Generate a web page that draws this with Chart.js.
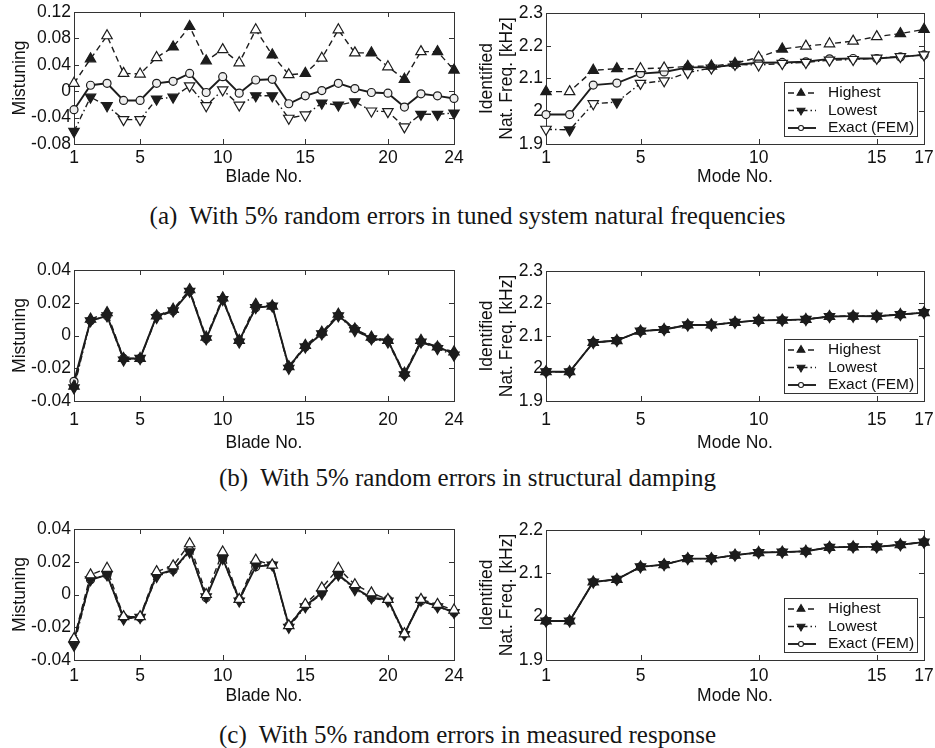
<!DOCTYPE html>
<html lang="en">
<head>
<meta charset="utf-8">
<title>Mistuning</title>
<script src="https://cdn.jsdelivr.net/npm/chart.js@4.4.1/dist/chart.umd.min.js"></script>
<style>
  html, body { margin: 0; padding: 0; background: #fff; }
  #figura { position: relative; width: 935px; height: 748px; overflow: hidden; }
  #figura canvas { position: absolute; }
  .legenda {
    position: absolute; left: 0; width: 935px; text-align: center; white-space: nowrap;
    font-family: "Liberation Serif", "Times New Roman", serif; font-size: 25px; line-height: 28px; color: #151515;
  }
</style>
</head>
<body>
<div id="figura">
  <canvas id="a_esq" width="470" height="188" style="left:0;top:0"></canvas>
  <canvas id="a_dir" width="475" height="188" style="left:460px;top:0"></canvas>
  <div class="legenda" style="top:202px">(a)&nbsp; With 5% random errors in tuned system natural frequencies</div>

  <canvas id="b_esq" width="470" height="196" style="left:0;top:258px"></canvas>
  <canvas id="b_dir" width="475" height="196" style="left:460px;top:258px"></canvas>
  <div class="legenda" style="top:464px">(b)&nbsp; With 5% random errors in structural damping</div>

  <canvas id="c_esq" width="470" height="190" style="left:0;top:517px"></canvas>
  <canvas id="c_dir" width="475" height="190" style="left:460px;top:517px"></canvas>
  <div class="legenda" style="top:721px">(c)&nbsp; With 5% random errors in measured response</div>
</div>

<script>
// eixos x: número da pá e número do modo
const laminas = [1, 2, 3, 4, 5, 6, 7, 8, 9, 10, 11, 12, 13, 14, 15, 16, 17, 18, 19, 20, 21, 22, 23, 24];
const modos = [1, 2, 3, 4, 5, 6, 7, 8, 9, 10, 11, 12, 13, 14, 15, 16, 17];
const ticks_laminas = [1, 5, 10, 15, 20, 24];
const ticks_modos = [1, 5, 10, 15, 17];
const ticks_mist_a = [-0.08, -0.04, 0, 0.04, 0.08, 0.12];
const ticks_mist_bc = [-0.04, -0.02, 0, 0.02, 0.04];
const ticks_freq_ab = [1.9, 2.0, 2.1, 2.2, 2.3];
const ticks_freq_c = [1.9, 2.0, 2.1, 2.2];
const rotulos = ["Highest", "Lowest", "Exact (FEM)"];

// valores exatos (FEM)
const mist_exato = [-0.028, 0.009, 0.012, -0.014, -0.014, 0.012, 0.015, 0.027, -0.002, 0.022, -0.003, 0.017,
                    0.018, -0.019, -0.007, 0.001, 0.012, 0.004, -0.002, -0.003, -0.024, -0.004, -0.007, -0.011];
const freq_exata = [1.99, 1.99, 2.08, 2.086, 2.115, 2.12, 2.134, 2.134, 2.142, 2.148, 2.149, 2.151, 2.16, 2.161, 2.161, 2.166, 2.172];

// (a) erros nas frequências naturais do sistema sintonizado
const mist_alto_a = [0.012, 0.049, 0.084, 0.027, 0.026, 0.051, 0.067, 0.098, 0.046, 0.063, 0.043, 0.093,
                     0.055, 0.025, 0.027, 0.050, 0.093, 0.058, 0.058, 0.037, 0.018, 0.060, 0.060, 0.032];
const mist_baixo_a = [-0.061, -0.009, -0.022, -0.043, -0.043, -0.012, -0.009, 0.008, -0.022, 0.002, -0.021, -0.007,
                      -0.007, -0.041, -0.036, -0.018, -0.021, -0.016, -0.030, -0.031, -0.054, -0.035, -0.035, -0.033];
const freq_alta_a = [2.06, 2.06, 2.125, 2.13, 2.13, 2.132, 2.137, 2.138, 2.146, 2.165, 2.19, 2.199, 2.206, 2.214, 2.228, 2.237, 2.25];
const freq_baixa_a = [1.945, 1.943, 2.023, 2.028, 2.085, 2.093, 2.118, 2.132, 2.143, 2.141, 2.146, 2.149, 2.156, 2.158, 2.162, 2.167, 2.172];

// (b) erros no amortecimento estrutural
const mist_alto_b = [-0.031, 0.010, 0.014, -0.014, -0.014, 0.012, 0.016, 0.028, -0.001, 0.023, -0.003, 0.019,
                     0.018, -0.019, -0.006, 0.002, 0.013, 0.004, -0.001, -0.003, -0.023, -0.003, -0.007, -0.010];
const mist_baixo_b = [-0.032, 0.009, 0.012, -0.015, -0.014, 0.011, 0.015, 0.027, -0.002, 0.022, -0.004, 0.017,
                      0.018, -0.020, -0.007, 0.001, 0.012, 0.003, -0.002, -0.004, -0.024, -0.004, -0.008, -0.012];
const freq_alta_b = [1.99, 1.99, 2.08, 2.086, 2.115, 2.12, 2.134, 2.134, 2.142, 2.148, 2.149, 2.151, 2.16, 2.161, 2.161, 2.166, 2.172];
const freq_baixa_b = [1.99, 1.99, 2.08, 2.086, 2.115, 2.12, 2.134, 2.134, 2.142, 2.148, 2.149, 2.151, 2.16, 2.161, 2.161, 2.166, 2.172];

// (c) erros na resposta medida
const mist_alto_c = [-0.027, 0.012, 0.016, -0.0135, -0.0135, 0.014, 0.0175, 0.031, 0.000, 0.026, -0.003, 0.021,
                     0.018, -0.019, -0.006, 0.004, 0.016, 0.006, 0.001, -0.003, -0.024, -0.003, -0.006, -0.0095];
const mist_baixo_c = [-0.031, 0.009, 0.012, -0.015, -0.014, 0.011, 0.015, 0.026, -0.0015, 0.022, -0.004, 0.018,
                      0.018, -0.020, -0.0075, 0.0005, 0.012, 0.003, -0.002, -0.004, -0.0245, -0.0035, -0.0075, -0.011];
const freq_alta_c = [1.99, 1.99, 2.08, 2.086, 2.115, 2.12, 2.134, 2.134, 2.142, 2.148, 2.149, 2.151, 2.16, 2.161, 2.161, 2.166, 2.172];
const freq_baixa_c = [1.99, 1.99, 2.08, 2.086, 2.115, 2.12, 2.134, 2.134, 2.142, 2.148, 2.149, 2.151, 2.16, 2.161, 2.161, 2.166, 2.172];

const COR = "#1c1c1c";
const COR_TEXTO = "#111";
const FONTE = '"Liberation Sans", Arial, Helvetica, sans-serif';

// caixa fechada com ticks para dentro (estilo matlab)
const moldura_plugin = {
  id: "moldura",
  beforeDatasetsDraw(chart) {
    const { ctx, chartArea: a, scales } = chart;
    const linha = (x1, y1, x2, y2) => { ctx.beginPath(); ctx.moveTo(x1, y1); ctx.lineTo(x2, y2); ctx.stroke(); };
    ctx.save();
    ctx.strokeStyle = "#333";
    ctx.lineWidth = 1;
    ctx.strokeRect(Math.round(a.left) + 0.5, Math.round(a.top) + 0.5, Math.round(a.width), Math.round(a.height));
    scales.x.ticks.forEach((t) => {
      const px = Math.round(scales.x.getPixelForValue(t.value)) + 0.5;
      linha(px, a.bottom, px, a.bottom - 5);
      linha(px, a.top, px, a.top + 5);
    });
    scales.y.ticks.forEach((t) => {
      const py = Math.round(scales.y.getPixelForValue(t.value)) + 0.5;
      linha(a.left, py, a.left + 5, py);
      linha(a.right, py, a.right - 5, py);
    });
    ctx.restore();
  },
};

// legenda dentro do gráfico, canto inferior direito
const legenda_plugin = {
  id: "legenda_matlab",
  afterDraw(chart, args, opts) {
    if (!opts.mostrar) return;
    const { ctx, chartArea: a } = chart;
    const x0 = Math.round(a.right) - 140, y0 = Math.round(a.bottom) - 62;
    ctx.save();
    ctx.fillStyle = "#fff";
    ctx.fillRect(x0, y0, 133, 54);
    ctx.strokeStyle = "#333";
    ctx.lineWidth = 1;
    ctx.strokeRect(x0 + 0.5, y0 + 0.5, 133, 54);
    chart.data.datasets.forEach((ds, i) => {
      const y = y0 + 11 + i * 17.5;
      ctx.strokeStyle = COR;
      ctx.lineWidth = ds.borderWidth;
      ctx.setLineDash(ds.borderDash);
      ctx.beginPath();
      ctx.moveTo(x0 + 4, y);
      ctx.lineTo(x0 + 32, y);
      ctx.stroke();
      ctx.setLineDash([]);
      ctx.lineWidth = 1.1;
      ctx.fillStyle = ds.pointStyle === "circle" ? "#fff" : COR;
      Chart.helpers.drawPoint(ctx, { pointStyle: ds.pointStyle, rotation: ds.pointRotation, radius: ds.pointRadius - 1.5, borderWidth: 1.1 }, x0 + 17, y);
      ctx.fillStyle = COR_TEXTO;
      ctx.font = "15.5px " + FONTE;
      ctx.textBaseline = "middle";
      ctx.fillText(ds.label, x0 + 44, y);
    });
    ctx.restore();
  },
};

function formatar(v) {
  if (Math.abs(v) < 1e-9) return "0";
  return String(parseFloat(v.toFixed(2)));
}

function preenchimento(cheios, n, fundo) {
  return Array.from({ length: n }, (_, j) =>
    cheios === true || (Array.isArray(cheios) && cheios.includes(j + 1)) ? COR : fundo);
}

function montar_painel(id, cfg) {
  const canvas = document.getElementById(id);
  if (!canvas) throw `${id} não encontrado!`;
  const estilos = [
    { borderDash: [6, 4], pointStyle: "triangle", pointRotation: 0, pointRadius: 6, borderWidth: 1.4 },
    { borderDash: [6, 3, 1.5, 3], pointStyle: "triangle", pointRotation: 180, pointRadius: 6, borderWidth: 1.4 },
    { borderDash: [], pointStyle: "circle", pointRotation: 0, pointRadius: 4, borderWidth: 1.9 },
  ];
  const datasets = cfg.series.map((valores, i) => ({
    label: rotulos[i],
    data: cfg.xs.map((x, j) => ({ x, y: valores[j] })),
    borderColor: COR,
    pointBorderColor: COR,
    pointBackgroundColor: preenchimento(cfg.cheios[i], cfg.xs.length, i === 2 ? "#eee" : "#fff"),
    pointBorderWidth: 1.2,
    tension: 0,
    clip: false,
    ...estilos[i],
  }));
  const zerar = (s) => { s.paddingLeft = 0; s.paddingRight = 0; s.paddingTop = 0; s.paddingBottom = 0; };
  const fonte = { family: FONTE, size: 17.5 };

  return new Chart(canvas, {
    type: "line",
    data: { datasets },
    plugins: [moldura_plugin, legenda_plugin],
    options: {
      responsive: false,
      animation: false,
      events: [],
      layout: { padding: { left: 0, top: cfg.pad_topo, right: cfg.pad_dir, bottom: 0 } },
      plugins: {
        legend: { display: false },
        tooltip: { enabled: false },
        legenda_matlab: { mostrar: cfg.legenda },
      },
      scales: {
        x: {
          type: "linear",
          min: cfg.xs[0],
          max: cfg.xs[cfg.xs.length - 1],
          grid: { display: false, drawTicks: false },
          border: { display: false },
          afterBuildTicks: (s) => { s.ticks = cfg.ticks_x.map((v) => ({ value: v })); },
          ticks: { font: fonte, color: COR_TEXTO, padding: cfg.pad_x, maxRotation: 0, autoSkip: false, callback: (v) => String(v) },
          title: { display: true, text: cfg.titulo_x, font: { ...fonte, lineHeight: 1.2 }, color: COR_TEXTO, padding: 0 },
          afterFit: (s) => { s.height = cfg.alt_x; zerar(s); },
        },
        y: {
          type: "linear",
          min: cfg.ticks_y[0],
          max: cfg.ticks_y[cfg.ticks_y.length - 1],
          grid: { display: false, drawTicks: false },
          border: { display: false },
          afterBuildTicks: (s) => { s.ticks = cfg.ticks_y.map((v) => ({ value: v })); },
          ticks: { font: fonte, color: COR_TEXTO, padding: 3, autoSkip: false, callback: (v) => formatar(v) },
          title: { display: true, text: cfg.titulo_y, font: { ...fonte, lineHeight: 1.1 }, color: COR_TEXTO, padding: { top: cfg.pad_titulo_y, bottom: 0 } },
          afterFit: (s) => { s.width = cfg.larg_y; zerar(s); },
        },
      },
    },
  });
}

function main_local() {
  const esquerda = { xs: laminas, ticks_x: ticks_laminas, titulo_x: "Blade No.", titulo_y: "Mistuning",
                     larg_y: 74, pad_titulo_y: 11, pad_topo: 12, pad_dir: 16, legenda: false };
  const direita = { xs: modos, ticks_x: ticks_modos, titulo_x: "Mode No.", titulo_y: ["Identified", "Nat. Freq. [kHz]"],
                    larg_y: 86, pad_titulo_y: 18, pad_topo: 13, pad_dir: 11, legenda: true };
  const linha_a = { alt_x: 44, pad_x: 4 };
  const linha_b = { alt_x: 53, pad_x: 9 };
  const linha_c = { alt_x: 47, pad_x: 6 };

  montar_painel("a_esq", { ...esquerda, ...linha_a, ticks_y: ticks_mist_a,
    series: [mist_alto_a, mist_baixo_a, mist_exato],
    cheios: [[2, 7, 8, 9, 13, 15, 19, 21, 23, 24], [1, 2, 3, 6, 7, 12, 13, 16, 17, 18, 22, 23, 24], false] });
  montar_painel("a_dir", { ...direita, ...linha_a, ticks_y: ticks_freq_ab,
    series: [freq_alta_a, freq_baixa_a, freq_exata],
    cheios: [[1, 3, 4, 7, 8, 9, 11, 16, 17], [2, 4], false] });

  montar_painel("b_esq", { ...esquerda, ...linha_b, ticks_y: ticks_mist_bc,
    series: [mist_alto_b, mist_baixo_b, mist_exato], cheios: [true, true, false] });
  montar_painel("b_dir", { ...direita, ...linha_b, ticks_y: ticks_freq_ab,
    series: [freq_alta_b, freq_baixa_b, freq_exata], cheios: [true, true, false] });

  montar_painel("c_esq", { ...esquerda, ...linha_c, ticks_y: ticks_mist_bc,
    series: [mist_alto_c, mist_baixo_c, mist_exato], cheios: [false, true, false] });
  montar_painel("c_dir", { ...direita, ...linha_c, ticks_y: ticks_freq_c,
    series: [freq_alta_c, freq_baixa_c, freq_exata], cheios: [true, true, false] });
}
main_local();
</script>
</body>
</html>
